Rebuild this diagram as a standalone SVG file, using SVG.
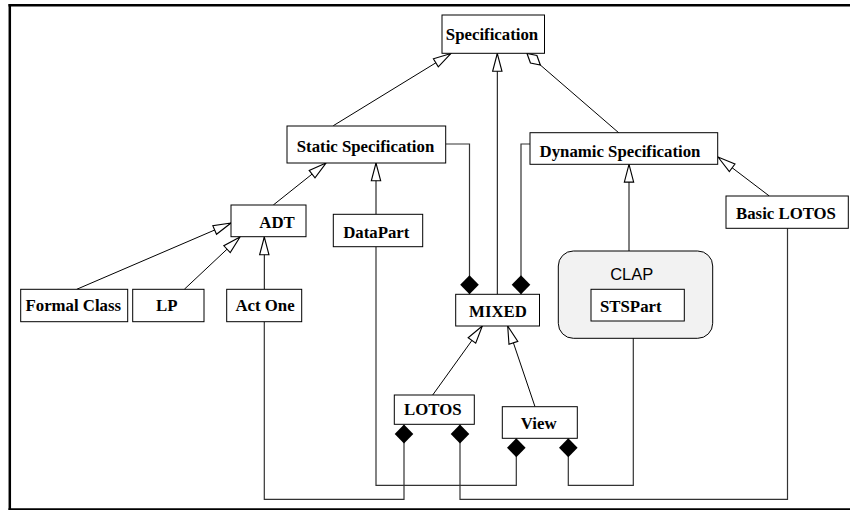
<svg xmlns="http://www.w3.org/2000/svg" width="850" height="510" viewBox="0 0 850 510">
  <style>
    .box { fill: #ffffff; stroke: #000000; stroke-width: 1; }
    .clap { fill: #f2f2f2; stroke: #000000; stroke-width: 1; }
    .lbl { font-family: "Liberation Serif", "Times New Roman", serif; font-weight: bold; font-size: 16.8px; fill: #000000; text-anchor: middle; }
    .pkg { font-family: "Liberation Sans", Arial, sans-serif; font-size: 16.5px; fill: #000000; text-anchor: middle; }
    .gen { fill: none; stroke: #000000; stroke-width: 1; marker-end: url(#tri); }
    .comp { fill: none; stroke: #333333; stroke-width: 1.2; marker-start: url(#dia); }
    .frame { stroke: #000000; fill: none; }
  </style>
  <defs>
    <!-- hollow triangle: generalisation -->
    <marker id="tri" markerUnits="userSpaceOnUse" markerWidth="20" markerHeight="20" refX="16" refY="0" viewBox="-1 -6 18 12" orient="auto">
      <path d="M16,0 L0,-4.2 L0,4.2 Z" fill="#ffffff" stroke="#000000" stroke-width="1"/>
    </marker>
    <!-- small hollow diamond: aggregation -->
    <marker id="hdia" markerUnits="userSpaceOnUse" markerWidth="20" markerHeight="20" refX="15" refY="0" viewBox="-1 -6 17 12" orient="auto">
      <path d="M15,0 L7.5,-4.2 L0,0 L7.5,4.2 Z" fill="#ffffff" stroke="#000000" stroke-width="1"/>
    </marker>
    <!-- filled diamond: composition -->
    <marker id="dia" markerUnits="userSpaceOnUse" markerWidth="22" markerHeight="22" refX="0" refY="0" viewBox="-1 -11 21 22" orient="auto">
      <path d="M0,0 L9.5,-9.3 L19,0 L9.5,9.3 Z" fill="#000000"/>
    </marker>
  </defs>

  <!-- page frame -->
  <g id="frame">
    <line class="frame" x1="8.5" y1="5.2" x2="850" y2="5.2" stroke-width="2.5"/>
    <line class="frame" x1="9.8" y1="4" x2="9.8" y2="510" stroke-width="2.5"/>
    <line class="frame" x1="8.5" y1="509.3" x2="850" y2="509.3" stroke-width="2"/>
  </g>

  <!-- connectors -->
  <g id="connectors">
    <!-- generalisations -->
    <path class="gen" d="M333.3,125.7 L451,53.5"/>
    <path class="gen" d="M497.3,294.3 L497.3,53.5"/>
    <path class="gen" d="M619,133 L527,53.5" style="marker-end:url(#hdia)"/>
    <path class="gen" d="M273.3,205 L326,163"/>
    <path class="gen" d="M76.7,289.3 L231,223"/>
    <path class="gen" d="M184.3,289.3 L240,237"/>
    <path class="gen" d="M264.3,289.3 L264.3,237"/>
    <path class="gen" d="M376,214.3 L376,163"/>
    <path class="gen" d="M432.7,395 L482.3,326"/>
    <path class="gen" d="M535,406.7 L507.7,326"/>
    <path class="gen" d="M629,251 L629,164.3"/>
    <path class="gen" d="M769.3,196 L718,157"/>
    <!-- compositions -->
    <path class="comp" d="M469.5,294.3 L469.5,144 L446,144"/>
    <path class="comp" d="M521,294.3 L521,144 L530,144"/>
    <path class="comp" d="M404,424.5 L404,499.3 L264.3,499.3 L264.3,321.7"/>
    <path class="comp" d="M460,424.5 L460,499.3 L787.5,499.3 L787.5,228.3"/>
    <path class="comp" d="M516.3,438.3 L516.3,485.3 L376,485.3 L376,246.7"/>
    <path class="comp" d="M568.3,438.3 L568.3,485.3 L633.3,485.3 L633.3,321"/>
  </g>

  <g id="specification">
    <rect class="box" x="442" y="15" width="102.5" height="38.3"/>
    <text class="lbl" x="492" y="40">Specification</text>
  </g>
  <g id="static-specification">
    <rect class="box" x="287" y="126" width="158.7" height="37"/>
    <text class="lbl" x="365.5" y="151.5">Static Specification</text>
  </g>
  <g id="dynamic-specification">
    <rect class="box" x="530" y="132.7" width="187.7" height="31.6"/>
    <text class="lbl" x="620" y="157">Dynamic Specification</text>
  </g>
  <g id="adt">
    <rect class="box" x="231" y="205" width="75" height="31.7"/>
    <text class="lbl" x="277" y="228">ADT</text>
  </g>
  <g id="datapart">
    <rect class="box" x="333.3" y="214.3" width="89.4" height="32.4"/>
    <text class="lbl" x="376.3" y="237.5">DataPart</text>
  </g>
  <g id="basic-lotos">
    <rect class="box" x="726" y="196" width="122.3" height="32.3"/>
    <text class="lbl" x="786" y="219">Basic LOTOS</text>
  </g>
  <g id="formal-class">
    <rect class="box" x="20.7" y="289.3" width="107" height="32.4"/>
    <text class="lbl" x="73.3" y="311">Formal Class</text>
  </g>
  <g id="lp">
    <rect class="box" x="132.7" y="289.3" width="71.3" height="32.4"/>
    <text class="lbl" x="166.7" y="311">LP</text>
  </g>
  <g id="act-one">
    <rect class="box" x="226.7" y="289.3" width="75" height="32.4"/>
    <text class="lbl" x="265" y="311">Act One</text>
  </g>
  <g id="mixed">
    <rect class="box" x="455.7" y="294.3" width="83.8" height="31.7"/>
    <text class="lbl" x="498" y="316.5">MIXED</text>
  </g>
  <g id="clap">
    <rect class="clap" x="558.3" y="251" width="154.4" height="87.3" rx="15" ry="15"/>
    <text class="pkg" x="631.7" y="280">CLAP</text>
  </g>
  <g id="stspart">
    <rect class="box" x="591" y="289.3" width="93.3" height="31.7"/>
    <text class="lbl" x="630.8" y="311.7">STSPart</text>
  </g>
  <g id="lotos">
    <rect class="box" x="394.3" y="395" width="80" height="29.3"/>
    <text class="lbl" x="432.8" y="415">LOTOS</text>
  </g>
  <g id="view">
    <rect class="box" x="502.3" y="406.7" width="75" height="31.6"/>
    <text class="lbl" x="538.7" y="429">View</text>
  </g>
</svg>
